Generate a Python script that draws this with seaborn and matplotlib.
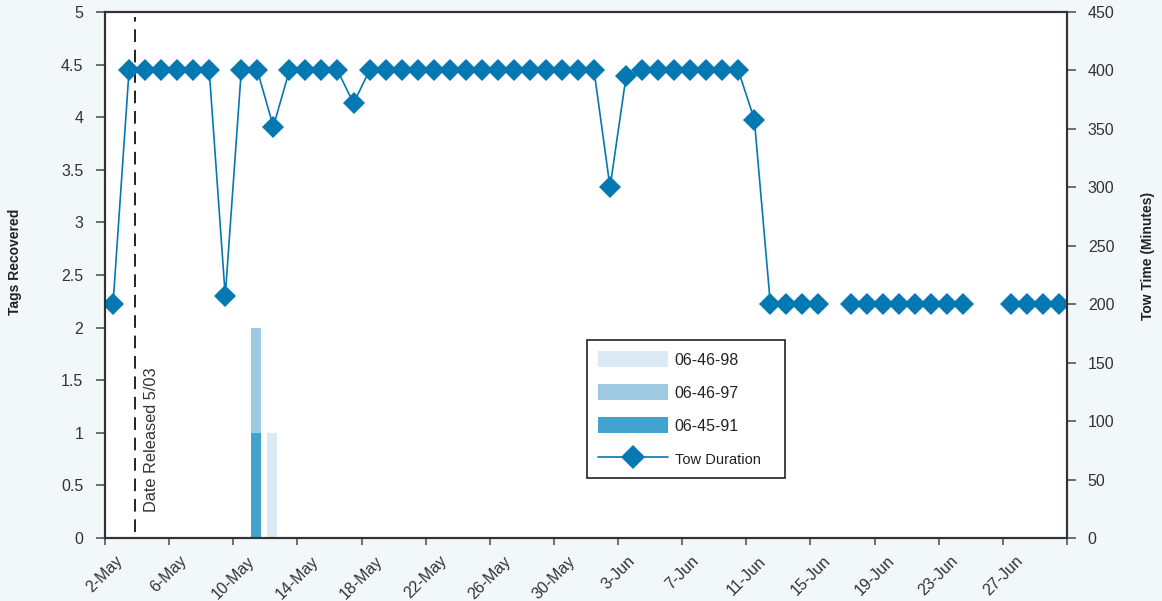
import numpy as np
import pandas as pd
import matplotlib
matplotlib.use("Agg")
import matplotlib.pyplot as plt
import matplotlib.transforms as mtransforms
import seaborn as sns
from matplotlib.patches import Patch
from matplotlib.lines import Line2D

# ---------------- data ----------------
start_date = "2006-05-02"
tow_dates = pd.date_range(start_date, "2006-06-30", freq="D")
tow_minutes = [200, 400, 400, 400, 400, 400, 400, 207, 400, 400,
               352, 400, 400, 400, 400, 372, 400, 400, 400, 400,
               400, 400, 400, 400, 400, 400, 400, 400, 400, 400,
               400, 300, 395, 400, 400, 400, 400, 400, 400, 400,
               358, 200, 200, 200, 200, np.nan, 200, 200, 200, 200,
               200, 200, 200, 200, np.nan, np.nan, 200, 200, 200, 200]

bar_dates = ["2006-05-11", "2006-05-12"]
tags_06_45_91 = [1, 0]
tags_06_46_97 = [1, 0]
tags_06_46_98 = [0, 1]

tick_labels = ["2-May", "6-May", "10-May", "14-May", "18-May", "22-May", "26-May",
               "30-May", "3-Jun", "7-Jun", "11-Jun", "15-Jun", "19-Jun", "23-Jun",
               "27-Jun", ""]
release_date = "2006-05-03"

# ---------------- style ----------------
sns.set_theme(style="ticks")
plt.rcParams["font.family"] = ["Liberation Sans", "DejaVu Sans"]

line_color = "#0478b0"
c_dark = "#42a3cf"
c_mid = "#9dcae2"
c_light = "#dceaf6"
bg = "#f2f7fa"
spine_c = "#333333"
text_c = "#333333"

fig = plt.figure(figsize=(11.62, 6.01), dpi=100, facecolor=bg)
ax = fig.add_axes([105 / 1162, 63 / 601, 962 / 1162, 526 / 601])
ax.set_facecolor("white")
ax2 = ax.twinx()

t0 = pd.Timestamp(start_date)

# stacked bars (tags recovered)
bx = np.array([(pd.Timestamp(d) - t0).days for d in bar_dates]) + 0.42
b1 = np.array(tags_06_45_91)
b2 = np.array(tags_06_46_97)
b3 = np.array(tags_06_46_98)
ax.bar(bx, b1, width=0.62, color=c_dark, linewidth=0)
ax.bar(bx, b2, bottom=b1, width=0.62, color=c_mid, linewidth=0)
ax.bar(bx, b3, bottom=b1 + b2, width=0.62, color=c_light, linewidth=0)

# release date line
rx = (pd.Timestamp(release_date) - t0).days + 0.87
ax.axvline(rx, ymin=0.012, ymax=0.99, color="#222222", lw=1.4, dashes=(6.5, 4))
ax.text(rx + 1.0, 0.25, "Date Released 5/03", rotation=90, ha="center", va="bottom",
        fontsize=11.8, color=text_c)

# tow duration line (segments broken at missing days)
df = pd.DataFrame({"x": [(d - t0).days + 0.5 for d in tow_dates], "tow": tow_minutes})
df["seg"] = df["tow"].isna().cumsum()
df = df.dropna()
sns.lineplot(data=df, x="x", y="tow", units="seg", estimator=None, ax=ax2,
             color=line_color, lw=1.2, marker="D", markersize=10.8,
             markeredgecolor=line_color, markeredgewidth=0, legend=False, sort=True)

# axes limits / ticks
ax.set_xlim(0, 60)
ax.set_ylim(0, 5)
ax2.set_ylim(0, 450)
ax.set_xticks(np.arange(0, 61, 4))
ax.set_xticklabels(tick_labels, rotation=45, ha="center", fontsize=11.5, color=text_c)
for lab in ax.get_xticklabels():
    txt = lab.get_text()
    if "-" in txt and len(txt.split("-")[0]) == 2:
        lab.set_transform(lab.get_transform() +
                          mtransforms.ScaledTranslation(-13 / 100, 0, fig.dpi_scale_trans))
ax.set_yticks(np.arange(0, 5.01, 0.5))
ax.set_yticklabels([f"{v:g}" for v in np.arange(0, 5.01, 0.5)], fontsize=11.5, color=text_c)
ax2.set_yticks(np.arange(0, 451, 50))
ax2.set_yticklabels([str(v) for v in range(0, 451, 50)], fontsize=11.5, color=text_c)
ax.set_xlabel("")
ax.set_ylabel("")
ax2.set_xlabel("")
ax2.set_ylabel("")

ax.tick_params(axis="x", length=5, width=1.2, color="#555555", pad=6)
ax.tick_params(axis="y", length=6.5, width=1.2, color="#555555", pad=9)
ax2.tick_params(axis="y", length=6.5, width=1.2, color="#555555", pad=8.5)

for a in (ax, ax2):
    for s in a.spines.values():
        s.set_color(spine_c)
        s.set_linewidth(1.5)
        s.set_visible(True)

# axis titles
fig.text(15 / 1162, 1 - 262 / 601, "Tags Recovered", rotation=90, ha="center", va="center",
         fontsize=10, fontweight="bold", color="#222222")
fig.text(1148 / 1162, 1 - 256 / 601, "Tow Time (Minutes)", rotation=90, ha="center", va="center",
         fontsize=10, fontweight="bold", color="#222222")

# legend
handles = [Patch(facecolor=c_light, edgecolor="none", label="06-46-98"),
           Patch(facecolor=c_mid, edgecolor="none", label="06-46-97"),
           Patch(facecolor=c_dark, edgecolor="none", label="06-45-91"),
           Line2D([0], [0], color=line_color, lw=1.2, marker="D", markersize=12,
                  markeredgewidth=0, label="Tow Duration")]
leg = ax2.legend(handles=handles, loc="upper left",
                 bbox_to_anchor=((587 - 105) / 962, (538 - 478) / 526,
                                 (785 - 587) / 962, (478 - 340) / 526),
                 mode="expand",
                 borderaxespad=0, frameon=True, fancybox=False, framealpha=1,
                 edgecolor="#222222", fontsize=11.5, handlelength=4.4,
                 handleheight=1.15, labelspacing=1.05, handletextpad=0.4,
                 borderpad=0.7)
leg.get_frame().set_linewidth(1.2)
for t in leg.get_texts():
    t.set_color("#222222")
leg.get_texts()[-1].set_fontsize(10.5)

fig.savefig("out.png", dpi=100, facecolor=bg)
